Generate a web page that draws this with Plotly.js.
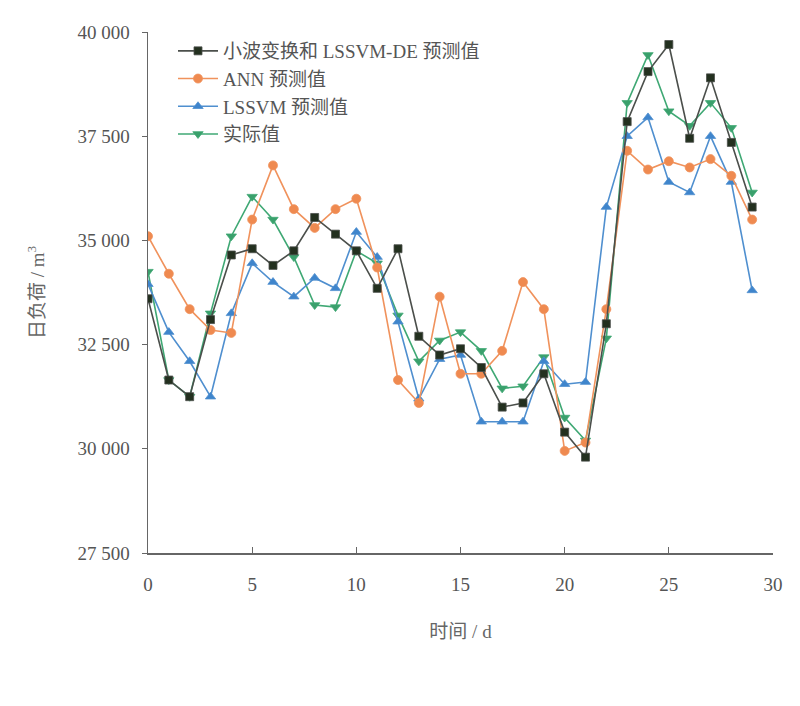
<!DOCTYPE html>
<html>
<head>
<meta charset="utf-8">
<script src="https://cdn.plot.ly/plotly-3.0.1.min.js"></script>
<style>
  body { margin: 0; background: #fff; }
  #grafik { width: 800px; height: 706px; }
</style>
</head>
<body>
<div id="grafik"></div>
<script>
// Hari (d)
const hari = [0, 1, 2, 3, 4, 5, 6, 7, 8, 9, 10, 11, 12, 13, 14, 15, 16, 17, 18, 19, 20, 21, 22, 23, 24, 25, 26, 27, 28, 29];

// 小波变换和 LSSVM-DE 预测值
const wlsDe = [33600, 31650, 31250, 33100, 34650, 34800, 34400, 34750, 35550, 35150,
               34750, 33850, 34800, 32700, 32250, 32400, 31950, 31000, 31100, 31800,
               30400, 29800, 33000, 37850, 39050, 39700, 37450, 38900, 37350, 35800];

// ANN 预测值
const ann = [35100, 34200, 33350, 32850, 32780, 35500, 36800, 35750, 35300, 35750,
             36000, 34350, 31650, 31100, 33650, 31800, 31800, 32350, 34000, 33350,
             29950, 30150, 33350, 37150, 36700, 36900, 36750, 36950, 36550, 35500];

// LSSVM 预测值
const lssvm = [33950, 32800, 32100, 31250, 33250, 34450, 34000, 33650, 34100, 33850,
               35200, 34600, 33050, 31200, 32150, 32250, 30650, 30650, 30650, 32100,
               31550, 31600, 35800, 37500, 37950, 36400, 36150, 37500, 36400, 33800];

// 实际值
const aktual = [34250, 31650, 31250, 33250, 35100, 36050, 35500, 34600, 33450, 33400,
                34750, 34450, 33200, 32100, 32600, 32800, 32350, 31450, 31500, 32200,
                30750, 30200, 32650, 38300, 39450, 38100, 37750, 38300, 37700, 36150];

const yTickVals = [27500, 30000, 32500, 35000, 37500, 40000];
const yTickText = ["27 500", "30 000", "32 500", "35 000", "37 500", "40 000"];
const xTickVals = [0, 5, 10, 15, 20, 25, 30];

const fontSerif = "Liberation Serif, Noto Sans CJK SC, serif";

function seri(nama, y, warnaGaris, warnaMarker, simbol, ukuran, rank) {
    return {
        x: hari,
        y: y,
        name: nama,
        legendrank: rank,
        mode: "lines+markers",
        type: "scatter",
        line: { color: warnaGaris, width: 1.6 },
        marker: { symbol: simbol, size: ukuran, color: warnaMarker,
                  line: { color: warnaGaris, width: 0.8 } }
    };
}

// Urutan gambar: aktual di bawah, DE di atas; legenda lewat legendrank
const data = [
    seri("实际值", aktual, "#3fa874", "#3aa06c", "triangle-down", 9, 4),
    seri("LSSVM 预测值", lssvm, "#4f8fcf", "#3f85cc", "triangle-up", 9, 3),
    seri("ANN 预测值", ann, "#f0925c", "#ef8a50", "circle", 9, 2),
    seri("小波变换和 LSSVM-DE 预测值", wlsDe, "#4b4f4b", "#23301f", "square", 8, 1)
];

const layout = {
    width: 800,
    height: 706,
    margin: { l: 148, r: 27, t: 32, b: 153 },
    paper_bgcolor: "#fff",
    plot_bgcolor: "#fff",
    font: { family: fontSerif, color: "#555", size: 17 },
    showlegend: true,
    legend: {
        x: 0.04, y: 1.0, xanchor: "left", yanchor: "top",
        bgcolor: "rgba(0,0,0,0)",
        font: { family: fontSerif, size: 19, color: "#555" },
        tracegroupgap: 0,
        itemwidth: 40
    },
    xaxis: {
        range: [0, 30],
        tickvals: xTickVals,
        ticks: "inside",
        ticklen: 6,
        tickcolor: "#666",
        showline: true,
        linecolor: "#666",
        linewidth: 1.5,
        showgrid: false,
        zeroline: false,
        ticklabelstandoff: 14,
        tickfont: { family: fontSerif, size: 19, color: "#555" },
        title: { text: "时间 / d", font: { family: fontSerif, size: 19, color: "#666" }, standoff: 30 }
    },
    yaxis: {
        range: [27500, 40000],
        tickvals: yTickVals,
        ticktext: yTickText,
        ticks: "outside",
        ticklen: 5,
        tickcolor: "#666",
        showline: true,
        linecolor: "#666",
        linewidth: 1.5,
        showgrid: false,
        zeroline: false,
        ticklabelstandoff: 8,
        tickfont: { family: fontSerif, size: 19, color: "#555" },
        title: { text: "日负荷 / m<sup>3</sup>", font: { family: fontSerif, size: 19, color: "#666" }, standoff: 28 }
    }
};

Plotly.newPlot("grafik", data, layout, { displayModeBar: false, staticPlot: true });
</script>
</body>
</html>
